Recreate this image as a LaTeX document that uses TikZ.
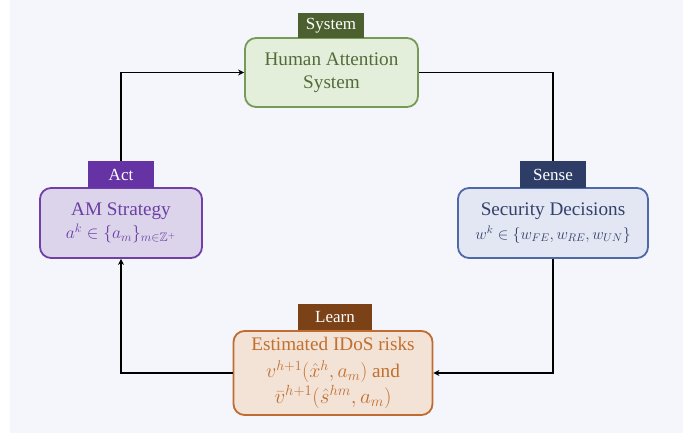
\documentclass[tikz,border=0pt]{standalone}
\usepackage{fix-cm}
\usepackage{amssymb}
\usepackage{fontspec}
\setmainfont{Liberation Serif}
\usetikzlibrary{arrows.meta}
\definecolor{bgc}{HTML}{F5F6FB}
\definecolor{systab}{HTML}{4B602E}
\definecolor{sysfill}{HTML}{E3EFDA}
\definecolor{sysdraw}{HTML}{789A58}
\definecolor{systext}{HTML}{536B3A}
\definecolor{acttab}{HTML}{6533A3}
\definecolor{actfill}{HTML}{DCD4EA}
\definecolor{actdraw}{HTML}{7040A8}
\definecolor{acttext}{HTML}{6B3FA3}
\definecolor{sentab}{HTML}{2E3D66}
\definecolor{senfill}{HTML}{E3E7F3}
\definecolor{sendraw}{HTML}{4F68A8}
\definecolor{sentext}{HTML}{34416A}
\definecolor{lrntab}{HTML}{7B4217}
\definecolor{lrnfill}{HTML}{F3E2D6}
\definecolor{lrndraw}{HTML}{BF6C32}
\definecolor{lrntext}{HTML}{C0702F}
\newcommand{\mfs}[1]{\fontsize{#1}{23.5}\selectfont}
\tikzset{
  mainbox/.style={rounded corners=11pt, line width=1.8pt, align=center, inner sep=0pt,
    font=\fontsize{19.2}{23.5}\selectfont},
  tabbox/.style={inner sep=0pt, text=white, font=\fontsize{17}{20}\selectfont},
  conn/.style={line width=1.5pt, black},
  tip/.style={-{Stealth[length=6pt,width=6pt]}}
}
\begin{document}
\begin{tikzpicture}[x=1pt,y=-1pt]
\useasboundingbox (0,0) rectangle (683,433);
\fill[bgc] (10,0) rectangle (683,433);

\node[mainbox, fill=sysfill, draw=sysdraw, text=systext, minimum width=173pt, minimum height=69pt]
  (sys) at (331.5,72.5) {Human Attention\\System};
\node[tabbox, fill=systab, minimum width=66pt, minimum height=25pt] (systb) at (331,25.5) {System};

\node[mainbox, fill=actfill, draw=actdraw, text=acttext, minimum width=162pt, minimum height=70pt]
  (act) at (121,223) {AM Strategy\\{\mfs{17.5}$a^k\in\{a_m\}_{m\in\mathbb{Z}^+}$}};
\node[tabbox, fill=acttab, minimum width=66pt, minimum height=27pt] (acttb) at (121,174.5) {Act};

\node[mainbox, fill=senfill, draw=sendraw, text=sentext, minimum width=190pt, minimum height=70pt]
  (sen) at (553,223) {Security Decisions\\{\mfs{15.8}$w^k\in\{w_{FE},w_{RE},w_{UN}\}$}};
\node[tabbox, fill=sentab, minimum width=66pt, minimum height=27pt] (sentb) at (553,174.5) {Sense};

\node[mainbox, fill=lrnfill, draw=lrndraw, text=lrntext, minimum width=199pt, minimum height=84pt]
  (lrn) at (333,373) {Estimated IDoS risks\\[3.5pt]{\mfs{20}$v^{h+1}\bigl(\hat{x}^h,a_m\bigr)$} and\\[2.5pt]{\mfs{21}$\bar{v}^{h+1}(\hat{s}^{hm},a_m)$}};
\node[tabbox, fill=lrntab, minimum width=74pt, minimum height=26pt] (lrntb) at (335,317) {Learn};

\draw[conn, tip] (acttb.north) |- (sys.west);
\draw[conn] (sys.east) -| (sentb.north);
\draw[conn, tip] (sen.south) |- (lrn.east);
\draw[conn, tip] (lrn.west) -| (act.south);
\end{tikzpicture}
\end{document}
